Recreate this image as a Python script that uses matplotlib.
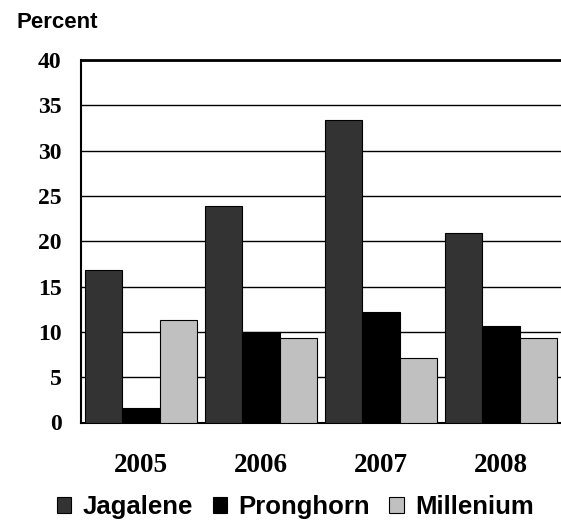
import matplotlib
matplotlib.use("Agg")
import matplotlib.pyplot as plt
import numpy as np

years = ["2005", "2006", "2007", "2008"]
series_names = ["Jagalene", "Pronghorn", "Millenium"]
jagalene = [16.8, 23.9, 33.4, 20.9]
pronghorn = [1.6, 10.0, 12.2, 10.6]
millenium = [11.35, 9.35, 7.15, 9.35]
colors = ["#333333", "#000000", "#c0c0c0"]

fig = plt.figure(figsize=(5.61, 5.21), dpi=100)
ax = fig.add_axes([81 / 561, 98.5 / 521, 480 / 561, 362.5 / 521])

x = np.arange(len(years))
w = 0.31
for i, (vals, name) in enumerate(zip([jagalene, pronghorn, millenium], series_names)):
    ax.bar(x + (i - 1) * w, vals, width=w, color=colors[i], edgecolor="black",
           linewidth=0.8, label=name, zorder=3)

ax.set_xlim(-0.5, 3.5)
ax.set_ylim(0, 40)
ax.set_yticks(range(0, 41, 5))
ax.set_xticks(x)
ax.set_xticklabels(years)
for lab in ax.get_yticklabels():
    lab.set_fontfamily("Liberation Serif")
    lab.set_fontweight("bold")
    lab.set_fontsize(17)
for lab in ax.get_xticklabels():
    lab.set_fontfamily("Liberation Serif")
    lab.set_fontweight("bold")
    lab.set_fontsize(19.5)
ax.tick_params(axis="y", length=0, pad=14)
ax.tick_params(axis="x", length=0, pad=22)

ax.yaxis.grid(True, color="black", linewidth=1.0, zorder=0)
ax.set_axisbelow(True)
ax.spines["right"].set_visible(False)
ax.spines["top"].set_linewidth(2.0)
ax.spines["left"].set_linewidth(1.5)
ax.spines["bottom"].set_linewidth(1.5)

fig.text(16 / 561, 1 - 27.7 / 521, "Percent", fontfamily="Liberation Sans",
         fontweight="bold", fontsize=16, ha="left", va="baseline")

fig.legend(loc="center", bbox_to_anchor=(295.5 / 561, 1 - 507 / 521), ncol=3,
           frameon=False, prop={"family": "Liberation Sans", "weight": "bold", "size": 18.5},
           handlelength=0.56, handleheight=0.56, handletextpad=0.45, columnspacing=0.75)

fig.savefig("out.png", dpi=100)
